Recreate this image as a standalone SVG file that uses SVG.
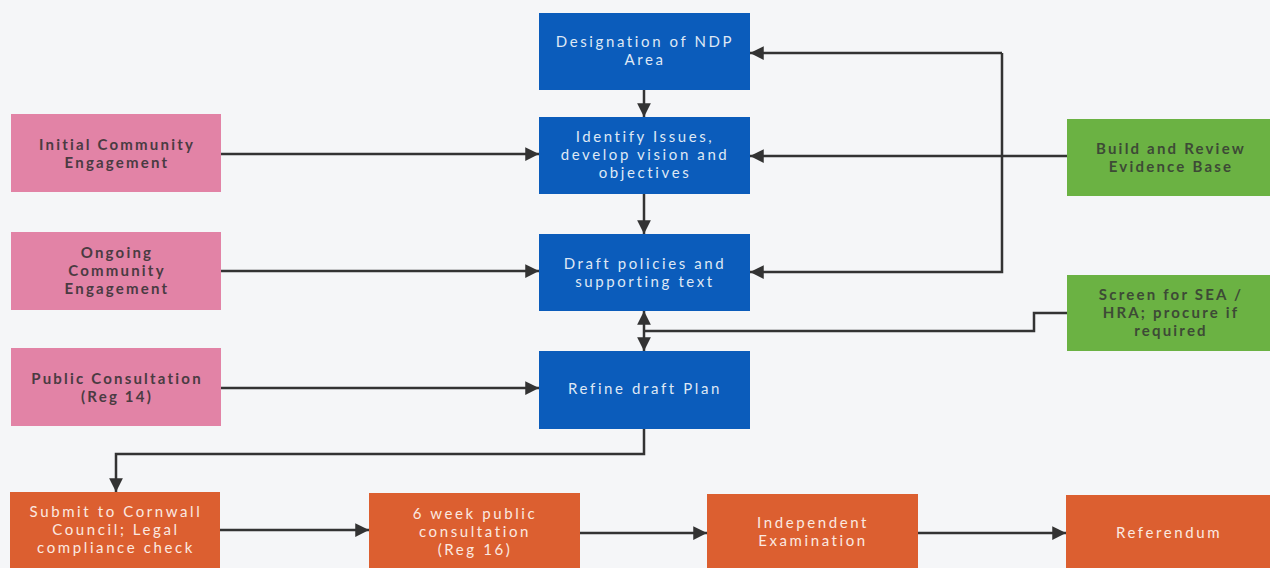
<svg xmlns="http://www.w3.org/2000/svg" width="1270" height="568" viewBox="0 0 1270 568">
<defs>
<marker id="ah" viewBox="0 0 10 10" refX="10" refY="5" markerWidth="5.5" markerHeight="5.5" orient="auto-start-reverse" markerUnits="strokeWidth">
<path d="M0,0 L10,5 L0,10 z" fill="#333"/>
</marker>
<style>
.blue{fill:#0b5cbb}
.pink{fill:#e283a6}
.green{fill:#6bb243}
.orange{fill:#dc5f30}
.tb{font-family:Lato,"Liberation Sans",sans-serif;font-size:15px;fill:#dfe8f5;text-anchor:middle;letter-spacing:2.6px}
.tp{font-family:Lato,"Liberation Sans",sans-serif;font-size:15px;font-weight:700;fill:#4a3b42;text-anchor:middle;letter-spacing:2.2px}
.tg{font-family:Lato,"Liberation Sans",sans-serif;font-size:15px;font-weight:700;fill:#3d4a36;text-anchor:middle;letter-spacing:2.2px}
.to{font-family:Lato,"Liberation Sans",sans-serif;font-size:15px;fill:#fbe9e0;text-anchor:middle;letter-spacing:2.6px}
.c{fill:none;stroke:#333;stroke-width:2.5}
</style>
</defs>
<rect width="1270" height="568" fill="#f5f6f8"/>
<g id="connectors">
<path class="c" d="M644,90 V117" marker-end="url(#ah)"/>
<path class="c" d="M644,194 V234" marker-end="url(#ah)"/>
<path class="c" d="M644,311 V351" marker-start="url(#ah)" marker-end="url(#ah)"/>
<path class="c" d="M1067,313 H1034 V331 H644"/>
<path class="c" d="M1067,156 H750" marker-end="url(#ah)"/>
<path class="c" d="M1002,53 H750" marker-end="url(#ah)"/>
<path class="c" d="M1002,53 V272 H750" marker-end="url(#ah)"/>
<path class="c" d="M221,154 H539" marker-end="url(#ah)"/>
<path class="c" d="M221,271 H539" marker-end="url(#ah)"/>
<path class="c" d="M221,388 H539" marker-end="url(#ah)"/>
<path class="c" d="M644,429 V454 H116 V492" marker-end="url(#ah)"/>
<path class="c" d="M220,530 H369" marker-end="url(#ah)"/>
<path class="c" d="M580,533 H707" marker-end="url(#ah)"/>
<path class="c" d="M918,533 H1066" marker-end="url(#ah)"/>
</g>
<g id="designation"><rect class="blue" x="539" y="13" width="211" height="77"/>
<text class="tb" x="645" y="47">Designation of NDP</text><text class="tb" x="645" y="65">Area</text></g>
<g id="identify"><rect class="blue" x="539" y="117" width="211" height="77"/>
<text class="tb" x="645" y="142">Identify Issues,</text><text class="tb" x="645" y="160">develop vision and</text><text class="tb" x="645" y="178">objectives</text></g>
<g id="draft"><rect class="blue" x="539" y="234" width="211" height="77"/>
<text class="tb" x="645" y="269">Draft policies and</text><text class="tb" x="645" y="287">supporting text</text></g>
<g id="refine"><rect class="blue" x="539" y="351" width="211" height="78"/>
<text class="tb" x="645" y="394">Refine draft Plan</text></g>
<g id="initial"><rect class="pink" x="11" y="114" width="210" height="78"/>
<text class="tp" x="117" y="150">Initial Community</text><text class="tp" x="117" y="168">Engagement</text></g>
<g id="ongoing"><rect class="pink" x="11" y="232" width="210" height="78"/>
<text class="tp" x="117" y="258">Ongoing</text><text class="tp" x="117" y="276">Community</text><text class="tp" x="117" y="294">Engagement</text></g>
<g id="public"><rect class="pink" x="11" y="348" width="210" height="78"/>
<text class="tp" x="117" y="384">Public Consultation</text><text class="tp" x="117" y="402">(Reg 14)</text></g>
<g id="evidence"><rect class="green" x="1067" y="119" width="203" height="77"/>
<text class="tg" x="1171" y="154">Build and Review</text><text class="tg" x="1171" y="172">Evidence Base</text></g>
<g id="screen"><rect class="green" x="1067" y="275" width="203" height="76"/>
<text class="tg" x="1171" y="300">Screen for SEA /</text><text class="tg" x="1171" y="318">HRA; procure if</text><text class="tg" x="1171" y="336">required</text></g>
<g id="submit"><rect class="orange" x="10" y="492" width="210" height="76"/>
<text class="to" x="116" y="517">Submit to Cornwall</text><text class="to" x="116" y="535">Council; Legal</text><text class="to" x="116" y="553">compliance check</text></g>
<g id="sixweek"><rect class="orange" x="369" y="493" width="211" height="75"/>
<text class="to" x="475" y="519">6 week public</text><text class="to" x="475" y="537">consultation</text><text class="to" x="475" y="555">(Reg 16)</text></g>
<g id="exam"><rect class="orange" x="707" y="494" width="211" height="74"/>
<text class="to" x="813" y="528">Independent</text><text class="to" x="813" y="546">Examination</text></g>
<g id="referendum"><rect class="orange" x="1066" y="495" width="204" height="73"/>
<text class="to" x="1169" y="538">Referendum</text></g>
</svg>
